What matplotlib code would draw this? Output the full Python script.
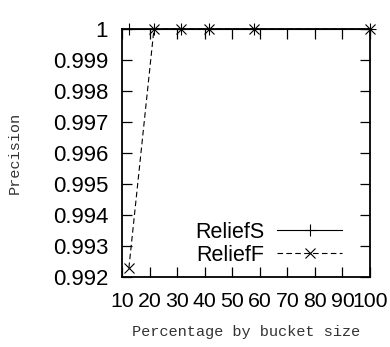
import matplotlib
matplotlib.use('Agg')
import matplotlib.pyplot as plt

# bucket size (%) and precision
bucket = [12.5, 21.6, 31.5, 41.7, 58.0, 100]
relief_s = [1.0, 1.0, 1.0, 1.0, 1.0, 1.0]
relief_f = [0.99229, 1.0, 1.0, 1.0, 1.0, 1.0]

xticks = [10, 20, 30, 40, 50, 60, 70, 80, 90, 100]
yticks = [0.992, 0.993, 0.994, 0.995, 0.996, 0.997, 0.998, 0.999, 1]
ytick_labels = ['0.992', '0.993', '0.994', '0.995', '0.996', '0.997', '0.998', '0.999', '1']

plt.rcParams['font.family'] = ['Liberation Sans', 'DejaVu Sans']

fig = plt.figure(figsize=(3.9, 3.47), dpi=100)
ax = fig.add_axes([0.3128, 0.2017, 0.9487 - 0.3128, 0.9164 - 0.2017])

ax.plot(bucket, relief_s, color='black', lw=0.8, marker='+', ms=9, mew=0.8,
        label='ReliefS', clip_on=False)
ax.plot(bucket, relief_f, color='black', lw=0.8, ls=(0, (5, 3)), marker='x', ms=7,
        mew=0.8, label='ReliefF', clip_on=False)

ax.set_xlim(10, 100)
ax.set_ylim(0.992, 1.0)
ax.set_xticks(xticks)
ax.set_xticklabels([str(t) for t in xticks])
ax.set_yticks(yticks)
ax.set_yticklabels(ytick_labels)
ax.tick_params(direction='in', length=7, width=0.9, top=True, right=True,
               labelsize=16, pad=10)
ax.tick_params(axis='x', pad=11, labelsize=15.3)
for s in ax.spines.values():
    s.set_linewidth(1.3)

mono = ['Liberation Mono', 'DejaVu Sans Mono']
ax.set_xlabel('Percentage by bucket size', family=mono, fontsize=11, color='#333333',
              labelpad=10)
ax.set_ylabel('Precision', family=mono, fontsize=11, color='#333333', labelpad=22)

ax.legend(loc='lower right', bbox_to_anchor=(0.887, 0.045), frameon=False,
          markerfirst=False, fontsize=15.5, handlelength=3.0, handletextpad=0.6,
          borderpad=0, borderaxespad=0, labelspacing=0.1)

fig.savefig('out.png', dpi=100)
